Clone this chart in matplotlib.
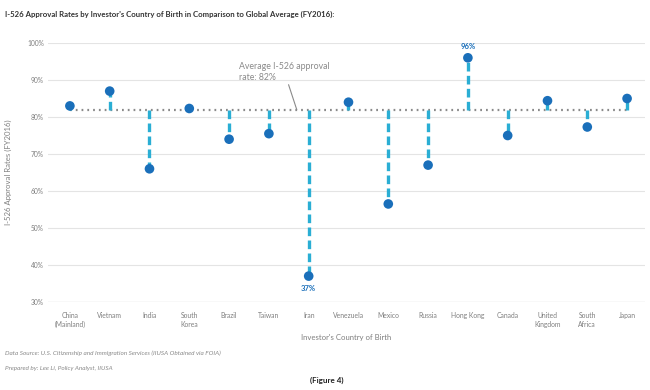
import matplotlib
matplotlib.use("Agg")
import matplotlib.pyplot as plt

plt.rcParams['font.family'] = ['Lato', 'DejaVu Sans']

countries = ["China\n(Mainland)", "Vietnam", "India", "South\nKorea", "Brazil", "Taiwan", "Iran",
             "Venezuela", "Mexico", "Russia", "Hong Kong", "Canada", "United\nKingdom",
             "South\nAfrica", "Japan"]
rates = [83, 87, 66, 82.3, 74, 75.5, 37, 84, 56.5, 67, 96, 75, 84.4, 77.3, 85]
average = 82
yticks = [30, 40, 50, 60, 70, 80, 90, 100]
ytick_labels = ["30%", "40%", "50%", "60%", "70%", "80%", "90%", "100%"]

W, H = 650, 390
fig = plt.figure(figsize=(6.5, 3.9), dpi=100)
ax = fig.add_axes([48 / W, 1 - 302 / H, (645 - 48) / W, (302 - 43) / H])

x = list(range(len(countries)))
ax.set_xlim(-0.55, len(countries) - 0.55)
ax.set_ylim(30, 100)

for t in yticks[1:]:
    ax.axhline(t, color="#e4e4e4", lw=0.8, zorder=0)
ax.axhline(30, color="#cfcfcf", lw=0.9, zorder=0)

ax.plot([x[0], x[-1]], [average, average], color="#8a8a8a", lw=1.6,
        linestyle=(0, (0.8, 1.8)), zorder=2)

for xi, r in zip(x, rates):
    ax.plot([xi, xi], [average, r], color="#2aaed4", lw=2.4,
            linestyle=(0, (2.6, 1.3)), zorder=3, solid_capstyle="butt")
ax.scatter(x, rates, s=48, color="#1a6fba", zorder=4, edgecolors="none")

ax.text(x[10], 96 + 2.0, "96%", ha="center", va="bottom", fontsize=5.5,
        color="#1a6fba", fontweight="bold")
ax.text(x[6], 37 - 2.3, "37%", ha="center", va="top", fontsize=5.5,
        color="#1a6fba", fontweight="bold")

ax.annotate("Average I-526 approval\nrate: 82%", xy=(5.7, average), xytext=(4.25, 92.2),
            fontsize=6.3, color="#8a8a8a", ha="left", va="center", linespacing=1.3,
            arrowprops=dict(arrowstyle="-", color="#8a8a8a", lw=0.8,
                            shrinkA=0, shrinkB=0,
                            connectionstyle="arc3,rad=0"),
            zorder=5)

ax.set_yticks(yticks)
ax.set_yticklabels(ytick_labels, fontsize=4.8, color="#7f7f7f")
ax.set_xticks(x)
ax.set_xticklabels(countries, fontsize=4.9, color="#7f7f7f", linespacing=1.4)
ax.tick_params(length=0)
ax.tick_params(axis="y", pad=3)
ax.tick_params(axis="x", pad=7)
for s in ax.spines.values():
    s.set_visible(False)

ax.set_ylabel("I-526 Approval Rates (FY2016)", fontsize=5.6, color="#7f7f7f")
ax.yaxis.set_label_coords(-36 / 597, 0.5)
ax.set_xlabel("Investor's Country of Birth", fontsize=5.6, color="#7f7f7f", labelpad=4)

fig.text(5 / W, 1 - 14 / H, "I-526 Approval Rates by Investor's Country of Birth in Comparison to Global Average (FY2016):",
         fontsize=5.6, fontweight="bold", color="#333333", ha="left", va="center")
fig.text(5 / W, 1 - 353 / H, "Data Source: U.S. Citizenship and Immigration Services (IIUSA Obtained via FOIA)",
         fontsize=4.6, style="italic", color="#8a8a8a", ha="left", va="center")
fig.text(5 / W, 1 - 368 / H, "Prepared by: Lee Li, Policy Analyst, IIUSA",
         fontsize=4.6, style="italic", color="#8a8a8a", ha="left", va="center")
fig.text(327 / W, 1 - 380 / H, "(Figure 4)", fontsize=5.8, fontweight="bold", color="#222222",
         ha="center", va="center")

fig.savefig("out.png", dpi=100, facecolor="white")
